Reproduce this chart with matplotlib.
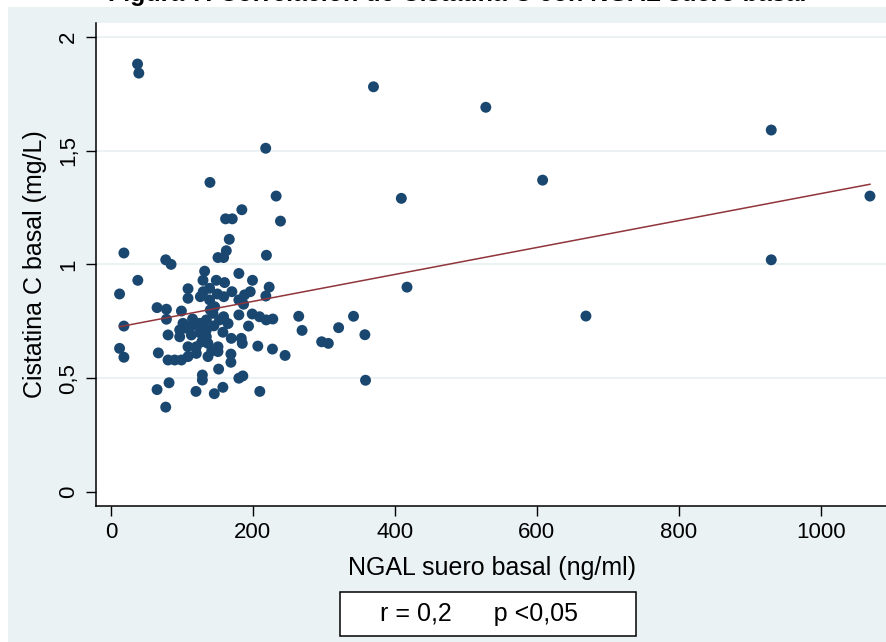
import numpy as np
import matplotlib
matplotlib.use("Agg")
import matplotlib.pyplot as plt
from matplotlib.patches import Rectangle

plt.rcParams['font.family'] = ['Liberation Sans', 'DejaVu Sans']

# ---- data ----
ngal = [37.5, 39.3, 369.8, 528, 930, 218, 608, 139.5, 232.7, 1069, 409, 184.4,
        161.5, 170.9, 238.8, 166.7, 18.3, 162.5, 150.8, 158.7, 219, 930, 77.2, 84.7,
        132, 180.2, 37.9, 199.4, 129.7, 148.4, 160.1, 222.9, 417, 139, 108.6, 170.4,
        196.2, 12.2, 188.2, 218.2, 126, 159, 108.6, 180.2, 139, 186.8, 146.1, 65,
        78.2, 99.3, 143.7, 199, 180.2, 669, 264.5, 341.7, 158.7, 209.3, 78.2, 153,
        218.7, 134.4, 228, 101.5, 125, 115.5, 18.3, 193.8, 320.7, 96.9, 134.4, 269.2,
        157.7, 357.7, 80.5, 113.3, 96.9, 134.4, 169.5, 183.6, 296.8, 306.2, 136.7, 185,
        206.9, 150.8, 120.3, 108.6, 12.2, 227.5, 150.8, 66.8, 120.3, 169, 245.3, 136.7,
        108.6, 18.3, 80.5, 89.9, 99.3, 169, 151.7, 128.8, 185.8, 180.2, 128.8, 358.6,
        81.9, 157.7, 65, 119.8, 209.7, 145.6, 77.2,
        125, 140, 130, 150, 115, 145, 165, 105, 128, 142]
cistatina = [1.88, 1.84, 1.78, 1.69, 1.59, 1.51, 1.37, 1.36, 1.30, 1.30, 1.29, 1.24,
             1.20, 1.20, 1.19, 1.11, 1.05, 1.06, 1.03, 1.03, 1.04, 1.02, 1.02, 1.00,
             0.97, 0.96, 0.93, 0.93, 0.93, 0.93, 0.92, 0.90, 0.90, 0.895, 0.893, 0.88,
             0.88, 0.87, 0.866, 0.861, 0.858, 0.858, 0.851, 0.844, 0.844, 0.825, 0.814, 0.81,
             0.803, 0.795, 0.785, 0.782, 0.778, 0.773, 0.772, 0.772, 0.770, 0.770, 0.759, 0.756,
             0.756, 0.756, 0.760, 0.741, 0.741, 0.734, 0.729, 0.729, 0.722, 0.712, 0.712, 0.710,
             0.702, 0.691, 0.690, 0.690, 0.682, 0.682, 0.675, 0.675, 0.660, 0.653, 0.653, 0.653,
             0.641, 0.638, 0.638, 0.638, 0.631, 0.628, 0.617, 0.611, 0.609, 0.606, 0.600, 0.595,
             0.595, 0.592, 0.580, 0.580, 0.580, 0.570, 0.540, 0.514, 0.51, 0.50, 0.492, 0.491,
             0.480, 0.46, 0.45, 0.442, 0.442, 0.432, 0.373,
             0.70, 0.80, 0.88, 0.87, 0.76, 0.73, 0.74, 0.72, 0.66, 0.62]

# fitted line
fit_intercept = 0.719
fit_slope = 0.000592

x_ticks = [0, 200, 400, 600, 800, 1000]
y_ticks = [0, 0.5, 1, 1.5, 2]
y_tick_labels = ['0', '0,5', '1', '1,5', '2']

title_text = 'Figura 7. Correlación de Cistatina C con NGAL suero basal'
x_label = 'NGAL suero basal (ng/ml)'
y_label = 'Cistatina C basal (mg/L)'
note_text = 'r = 0,2      p <0,05'

# ---- figure ----
W, H = 887, 642
fig = plt.figure(figsize=(W / 100, H / 100), dpi=100, facecolor='white')
fig.patches.append(Rectangle((8 / W, 0), 1, (H - 7) / H, transform=fig.transFigure,
                             facecolor='#EAF2F3', edgecolor='none', zorder=-10))

ax = fig.add_axes([96 / W, (H - 505.7) / H, 1 - 96 / W + 0.02, (505.7 - 22.7) / H])
ax.set_zorder(1)
ax.set_facecolor('white')
ax.set_xlim(-21, 1118)
ax.set_ylim(-0.06, 2.0615)

for yv in y_ticks[1:]:
    ax.axhline(yv, color='#EAF2F3', lw=1.4, zorder=1)

ax.scatter(ngal, cistatina, s=62, color='#1A476F', edgecolors='none', zorder=3)

fx = np.array([min(ngal), max(ngal)])
ax.plot(fx, fit_intercept + fit_slope * fx, color='#90353B', lw=1.1, zorder=4)

for side in ['top', 'right']:
    ax.spines[side].set_visible(False)
for side in ['left', 'bottom']:
    ax.spines[side].set_linewidth(1.1)
    ax.spines[side].set_color('black')

ax.set_xticks(x_ticks)
ax.set_xticklabels([str(v) for v in x_ticks])
ax.set_yticks(y_ticks)
ax.set_yticklabels(y_tick_labels, rotation=90, va='center')
ax.tick_params(axis='both', direction='out', length=7, width=1.0, color='black',
               labelsize=16)
ax.tick_params(axis='x', pad=5)
ax.tick_params(axis='y', pad=5)

# axis titles in figure coordinates
fig.text(492 / W, 1 - 568 / H, x_label, fontsize=18, ha='center', va='center')
fig.text(35 / W, 1 - 264 / H, y_label, fontsize=18, ha='center', va='center',
         rotation=90)

# note box
fig.patches.append(Rectangle((340 / W, 1 - 636 / H), (636 - 340) / W, (636 - 592) / H,
                             transform=fig.transFigure, facecolor='white',
                             edgecolor='black', lw=1.1, zorder=5))
fig.text(479 / W, 1 - 614 / H, note_text, fontsize=18, ha='center', va='center', zorder=6)

# clipped title (only its lowest pixels show at the top edge)
fig.text(457 / W, 1 - 1.0 / H, title_text, fontsize=18, fontweight='bold',
         ha='center', va='baseline')

fig.savefig('out.png', dpi=100, facecolor=fig.get_facecolor())
